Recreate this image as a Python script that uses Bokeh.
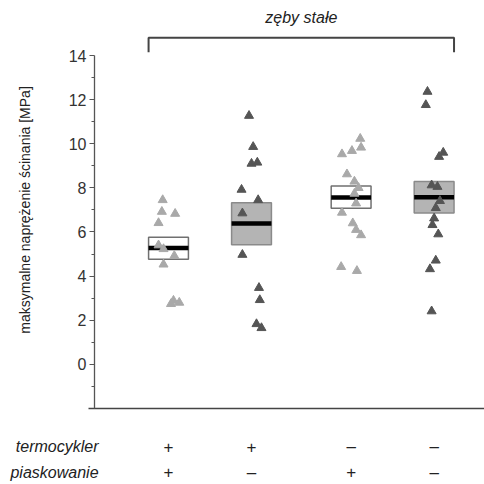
import math
from bokeh.plotting import figure
from bokeh.models import ColumnDataSource, FixedTicker, Label, LinearAxis
from bokeh.core.properties import value
from bokeh.embed import file_html
from bokeh.resources import INLINE

# ---- data ----
group_x = [1.0, 2.0, 3.2, 4.2]
termocykler = ["+", "+", "\u2013", "\u2013"]
piaskowanie = ["+", "\u2013", "+", "\u2013"]

q1 = [4.77, 5.42, 7.08, 6.86]
median = [5.27, 6.38, 7.56, 7.58]
q3 = [5.76, 7.33, 8.08, 8.29]
box_fill = ["white", "#b4b4b4", "white", "#b4b4b4"]
box_line = ["#707070", "#8a8a8a", "#707070", "#8a8a8a"]

g1_y = [7.45, 6.92, 6.83, 6.41, 5.40, 5.23, 4.92, 4.53, 2.89, 2.74, 2.80]
g1_dx = [-0.07, -0.08, 0.08, -0.12, -0.12, -0.06, 0.07, -0.06, 0.06, 0.03, 0.13]
g2_y = [11.27, 9.86, 9.10, 9.15, 7.92, 7.45, 6.85, 4.97, 3.47, 2.92, 1.83, 1.65]
g2_dx = [-0.03, 0.02, 0.00, 0.07, -0.12, 0.08, -0.11, -0.11, 0.09, 0.10, 0.06, 0.12]
g3_y = [10.23, 9.83, 9.68, 9.53, 8.62, 8.29, 8.00, 7.74, 7.30, 6.88, 6.40, 6.10, 5.86, 4.42, 4.24]
g3_dx = [0.11, 0.12, 0.01, -0.11, -0.05, 0.04, 0.09, 0.04, 0.06, -0.11, 0.02, 0.06, 0.12, -0.12, 0.07]
g4_y = [12.36, 11.76, 9.60, 9.41, 8.12, 8.05, 7.41, 7.09, 6.62, 6.32, 5.90, 4.71, 4.32, 2.41]
g4_dx = [-0.08, -0.10, 0.11, 0.06, -0.03, 0.04, 0.07, 0.02, 0.00, -0.02, 0.05, 0.02, -0.05, -0.03]
point_colors = ["#a9a9a9", "#555555", "#a9a9a9", "#555555"]

y_ticks = [0, 2, 4, 6, 8, 10, 12, 14]
y_minor = [-1, 1, 3, 5, 7, 9, 11, 13]

title_text = "zęby stałe"
y_label = "maksymalne naprężenie ścinania [MPa]"
row_names = ["termocykler", "piaskowanie"]

# ---- layout constants ----
box_w = 0.48
axis_lo, axis_hi = -2, 14
yaxis_x = 0.108
xaxis_start = 0.036
bracket_y, bracket_leg = 14.8, 14.15
title_y = 15.72
row_y = [-3.74, -4.88]
row_name_x = 0.157
ylabel_x, ylabel_y = -0.723, 7
FONT = "Liberation Sans"

p = figure(width=484, height=484, output_backend="svg", toolbar_location=None,
           x_range=(-1.024, 4.807), y_range=(-5.445, 16.493),
           x_axis_location=None, y_axis_location=None,
           min_border_left=0, min_border_right=0, min_border_top=0, min_border_bottom=0)
p.outline_line_color = None
p.xgrid.grid_line_color = None
p.ygrid.grid_line_color = None
p.background_fill_color = "white"

# y axis
ax = LinearAxis(fixed_location=yaxis_x, bounds=(axis_lo, axis_hi),
                ticker=FixedTicker(ticks=y_ticks, minor_ticks=y_minor))
ax.axis_line_color = "#555555"
ax.axis_line_width = 1.3
ax.major_tick_line_color = "#555555"
ax.minor_tick_line_color = "#555555"
ax.major_tick_out = 5
ax.major_tick_in = 0
ax.minor_tick_out = 3
ax.minor_tick_in = 0
ax.major_label_standoff = 3
ax.major_label_text_font = FONT
ax.major_label_text_font_size = "16px"
ax.major_label_text_color = "#333333"
p.add_layout(ax, "left")

# x axis (line only)
xa = LinearAxis(fixed_location=axis_lo, bounds=(xaxis_start, p.x_range.end),
                ticker=FixedTicker(ticks=[]))
xa.axis_line_color = "#444444"
xa.axis_line_width = 1.5
xa.major_tick_line_color = None
xa.minor_tick_line_color = None
xa.major_label_text_font_size = "0px"
p.add_layout(xa, "below")

# boxes
left = [x - box_w / 2 for x in group_x]
right = [x + box_w / 2 for x in group_x]
p.quad(left=left, right=right, bottom=q1, top=q3, fill_color=box_fill,
       line_color=box_line, line_width=1.5)
p.segment(x0=left, x1=right, y0=median, y1=median, line_color="black", line_width=4.5)

# points
for gx, ys, dxs, col in zip(group_x, [g1_y, g2_y, g3_y, g4_y],
                            [g1_dx, g2_dx, g3_dx, g4_dx], point_colors):
    src = ColumnDataSource(dict(x=[gx + d for d in dxs], y=ys))
    p.scatter("x", "y", source=src, marker="triangle", size=9,
              fill_color=col, line_color=col)

# bracket
bx = [left[0], left[0], right[-1], right[-1]]
by = [bracket_leg, bracket_y, bracket_y, bracket_leg]
p.line(bx, by, line_color="#444444", line_width=2)
p.text(x=[(left[0] + right[-1]) / 2], y=[title_y], text=[title_text],
       text_font=value(FONT), text_font_style="italic", text_font_size="16px",
       text_align="center", text_baseline="middle", text_color="#222222")

# treatment rows
for ry, signs in zip(row_y, [termocykler, piaskowanie]):
    p.text(x=group_x, y=[ry] * len(group_x), text=signs, text_font=value(FONT),
           text_font_size="17px", text_align="center", text_baseline="middle",
           text_color="#222222")

for ry, name in zip(row_y, row_names):
    p.add_layout(Label(x=row_name_x, y=ry, text=name, text_font=FONT,
                       text_font_style="italic", text_font_size="16px",
                       text_align="right", text_baseline="middle", text_color="#222222"))

p.add_layout(Label(x=ylabel_x, y=ylabel_y, text=y_label, angle=math.pi / 2, text_font=FONT,
                   text_font_size="14px", text_align="center", text_baseline="middle",
                   text_color="#222222"))

open("out.html", "w").write(file_html(p, INLINE))
